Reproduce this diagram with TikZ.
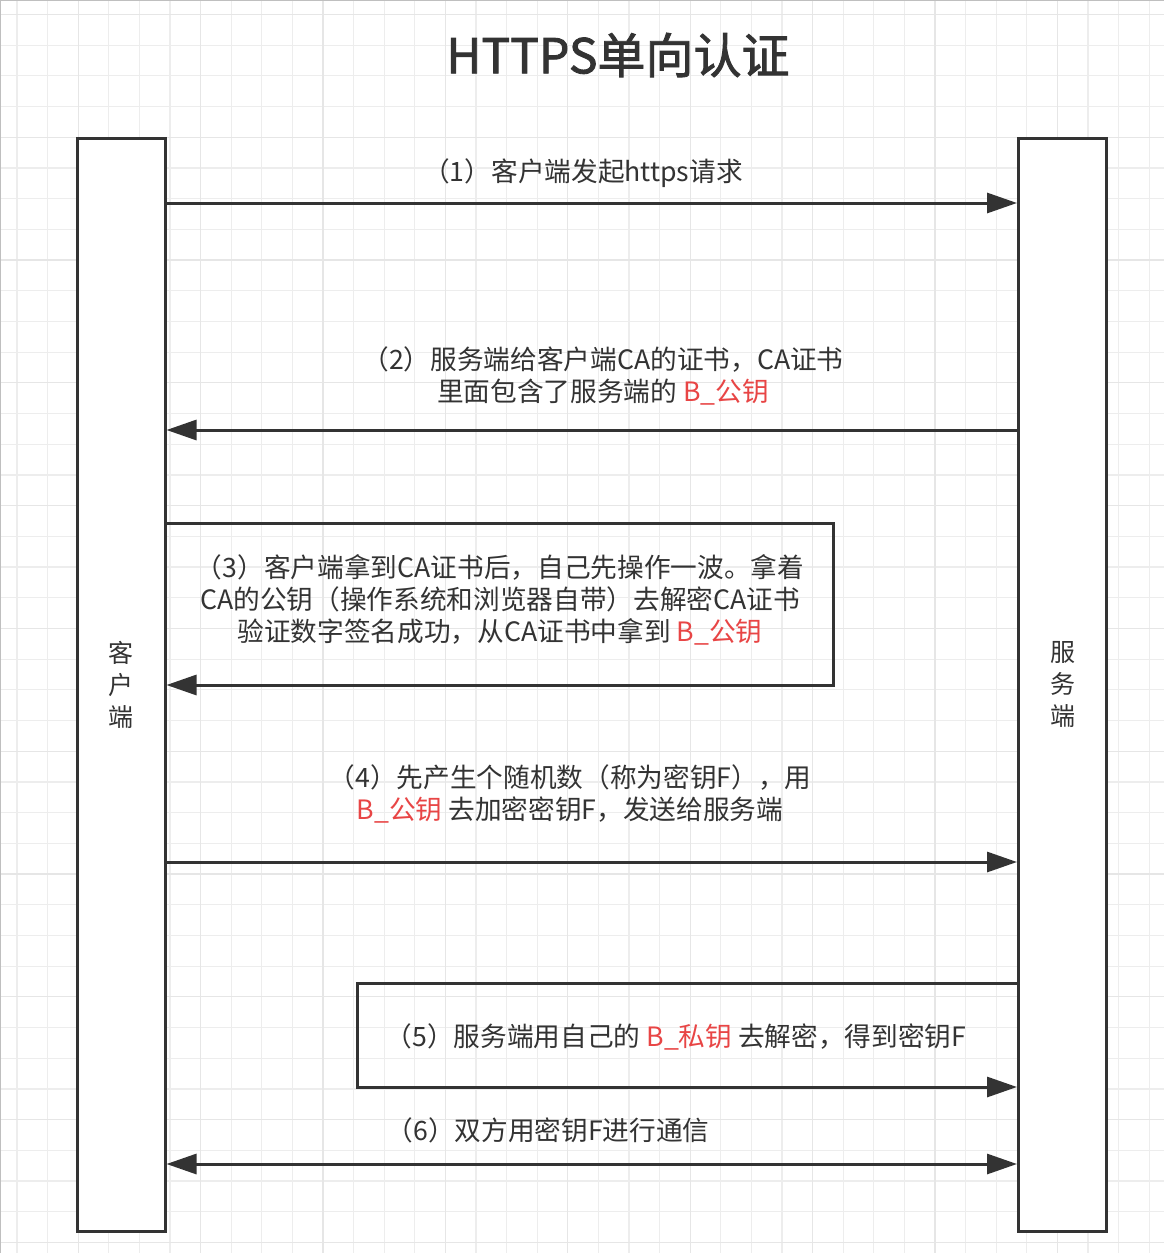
\documentclass[tikz,border=0pt]{standalone}
\usepackage{fontspec}
\setmainfont{Noto Sans CJK SC}
\usetikzlibrary{arrows.meta}
\definecolor{ink}{HTML}{333333}
\definecolor{keyred}{HTML}{E84545}
\definecolor{gridminor}{HTML}{EDEDED}
\definecolor{gridmajor}{HTML}{E6E6E6}
\newcommand{\keytxt}[1]{\textcolor{keyred}{#1}}
\begin{document}
\begin{tikzpicture}[x=0.75pt,y=-0.75pt,
  lifeline/.style={draw=ink, line width=2.25pt, fill=white, rectangle,
    minimum width=66pt, minimum height=819.75pt, inner sep=0pt,
    align=center, text=ink, font=\fontsize{18.75}{24}\selectfont},
  msg/.style={draw=ink, line width=2.25pt, -{Triangle[length=22.5pt,width=15pt]}},
  msgboth/.style={draw=ink, line width=2.25pt,
    {Triangle[length=22.5pt,width=15pt]}-{Triangle[length=22.5pt,width=15pt]}},
  label/.style={text=ink, align=center, inner sep=0pt,
    font=\fontsize{20}{24}\selectfont},
  heading/.style={text=ink, inner sep=0pt,
    font=\fontsize{36}{40}\selectfont\addfontfeature{FakeBold=1.8}}]
  % canvas and background grid
  \useasboundingbox (0,0) rectangle (1164,1253);
  \fill[white] (0,0) rectangle (1164,1253);
  \foreach \i in {0,...,37} {
    \pgfmathsetmacro{\gx}{17+30.6*\i}
    \draw[gridminor, line width=0.9pt] (\gx,0) -- (\gx,1253);
  }
  \foreach \i in {0,...,40} {
    \pgfmathsetmacro{\gy}{14.4+30.7*\i}
    \draw[gridminor, line width=0.9pt] (0,\gy) -- (1164,\gy);
  }
  \foreach \i in {0,4,...,36} {
    \pgfmathsetmacro{\gx}{17+30.6*\i+61.2}
    \draw[gridmajor, line width=0.9pt] (\gx,0) -- (\gx,1253);
  }
  \foreach \i in {0,4,...,40} {
    \pgfmathsetmacro{\gy}{14.4+30.7*\i}
    \draw[gridmajor, line width=0.9pt] (0,\gy) -- (1164,\gy);
  }
  \draw[black!25, line width=1.2pt] (0.6,1253) -- (0.6,0.6) -- (1164,0.6);

  % title
  \node[heading] (title) at (618,55) {HTTPS单向认证};

  % lifelines
  \node[lifeline] (client) at (121,684.5) {客\\户\\端};
  \node[lifeline] (server) at (1062.5,684.5) {服\\务\\端};

  % (1) request
  \draw[msg] (client.east |- 0,203) -- (server.west |- 0,203);
  \node[label] (m1) at (583,173) {（1）客户端发起https请求};

  % (2) certificate
  \draw[msg] (server.west |- 0,430) -- (client.east |- 0,430);
  \node[label] (m2) at (603,376) {（2）服务端给客户端CA的证书，CA证书\\里面包含了服务端的 \keytxt{B\_公钥}};

  % (3) client-side verification loop
  \coordinate (l3a) at (833,523);
  \coordinate (l3b) at (833,685);
  \draw[msg] (client.east |- l3a) -- (l3a) -- (l3b) -- (client.east |- l3b);
  \node[label] (m3) at (500,600) {（3）客户端拿到CA证书后，自己先操作一波。拿着\\CA的公钥（操作系统和浏览器自带）去解密CA证书\\验证数字签名成功，从CA证书中拿到 \keytxt{B\_公钥}};

  % (4) encrypted key
  \draw[msg] (client.east |- 0,862) -- (server.west |- 0,862);
  \node[label] (m4) at (570,794) {（4）先产生个随机数（称为密钥F），用\\\keytxt{B\_公钥} 去加密密钥F，发送给服务端};

  % (5) server-side decryption loop
  \coordinate (l5a) at (357,983);
  \coordinate (l5b) at (357,1087);
  \draw[msg] (server.west |- l5a) -- (l5a) -- (l5b) -- (server.west |- l5b);
  \node[label] (m5) at (676,1037) {（5）服务端用自己的 \keytxt{B\_私钥} 去解密，得到密钥F};

  % (6) two-way communication
  \draw[msgboth] (client.east |- 0,1164) -- (server.west |- 0,1164);
  \node[label] (m6) at (548,1130) {（6）双方用密钥F进行通信};
\end{tikzpicture}
\end{document}
